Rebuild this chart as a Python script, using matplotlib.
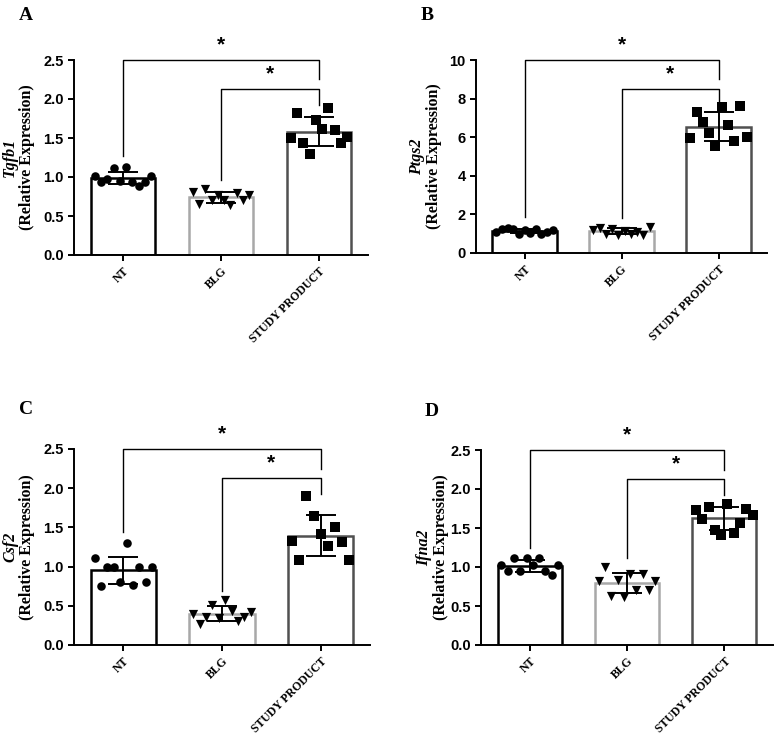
import numpy as np
import matplotlib
matplotlib.use("Agg")
import matplotlib.pyplot as plt

groups = ["NT", "BLG", "STUDY PRODUCT"]

# Panel A: Tgfb1
a_nt = [1.01, 0.93, 0.97, 1.12, 0.95, 1.13, 0.94, 0.89, 0.93, 1.01]
a_blg = [0.81, 0.66, 0.85, 0.71, 0.77, 0.70, 0.64, 0.79, 0.70, 0.77]
a_sp = [1.50, 1.82, 1.43, 1.30, 1.73, 1.62, 1.88, 1.60, 1.44, 1.51]

# Panel B: Ptgs2
b_nt = [1.10, 1.25, 1.30, 1.25, 1.00, 1.20, 1.05, 1.25, 1.00, 1.10, 1.20]
b_blg = [1.20, 1.30, 1.00, 1.25, 0.95, 1.15, 1.00, 1.10, 0.95, 1.35]
b_sp = [5.95, 7.28, 6.81, 6.20, 5.52, 7.55, 6.64, 5.81, 7.62, 6.03]

# Panel C: Csf2
c_nt = [1.11, 0.75, 1.00, 1.00, 0.80, 1.30, 0.76, 1.00, 0.80, 1.00]
c_blg = [0.39, 0.27, 0.36, 0.51, 0.34, 0.58, 0.44, 0.30, 0.36, 0.42]
c_sp = [1.33, 1.09, 1.90, 1.65, 1.41, 1.26, 1.50, 1.31, 1.09]

# Panel D: Ifna2
d_nt = [1.02, 0.95, 1.11, 0.95, 1.11, 1.02, 1.11, 0.95, 0.90, 1.02]
d_blg = [0.82, 1.00, 0.63, 0.83, 0.62, 0.91, 0.71, 0.91, 0.71, 0.82]
d_sp = [1.73, 1.61, 1.77, 1.47, 1.41, 1.81, 1.44, 1.57, 1.75, 1.67]

yticks_small = [0.0, 0.5, 1.0, 1.5, 2.0, 2.5]
yticks_b = [0, 2, 4, 6, 8, 10]

panels = [
    dict(letter="A", gene="Tgfb1", data=[a_nt, a_blg, a_sp], yticks=yticks_small, fmt="{:.1f}",
         rect=[74, 60, 368, 255], lab=[10, 27], letter_xy=(26, 15)),
    dict(letter="B", gene="Ptgs2", data=[b_nt, b_blg, b_sp], yticks=yticks_b, fmt="{:d}",
         rect=[476, 60, 767, 253], lab=[417, 434], letter_xy=(427, 15)),
    dict(letter="C", gene="Csf2", data=[c_nt, c_blg, c_sp], yticks=yticks_small, fmt="{:.1f}",
         rect=[74, 449, 370, 645], lab=[10, 27], letter_xy=(26, 410)),
    dict(letter="D", gene="Ifna2", data=[d_nt, d_blg, d_sp], yticks=yticks_small, fmt="{:.1f}",
         rect=[481, 450, 773, 645], lab=[424, 441], letter_xy=(432, 411)),
]

W, H = 782, 742
fig = plt.figure(figsize=(W / 100, H / 100), dpi=100)

edge_colors = ["#000000", "#a8a8a8", "#505050"]
markers = ["o", "v", "s"]
msizes = [38, 44, 44]
serif = "Liberation Serif"
sans = "Liberation Sans"

for p in panels:
    x0, y0, x1, y1 = p["rect"]
    ax = fig.add_axes([x0 / W, 1 - y1 / H, (x1 - x0) / W, (y1 - y0) / H])
    ytop = p["yticks"][-1]
    xs = np.arange(3)
    bw = 0.66
    for i, vals in enumerate(p["data"]):
        v = np.array(vals)
        m = v.mean()
        sd = v.std(ddof=1)
        ax.bar(xs[i], m, width=bw, facecolor="white", edgecolor=edge_colors[i], linewidth=1.8, zorder=1)
        off = np.linspace(-0.44, 0.44, len(v)) * bw
        ax.scatter(xs[i] + off, v, marker=markers[i], s=msizes[i], color="black", zorder=3, linewidths=0)
        ax.errorbar(xs[i], m, yerr=sd, color="black", capsize=11, elinewidth=1.4, capthick=1.4, zorder=4)
    ax.set_xlim(-0.5, 2.5)
    ax.set_ylim(0, ytop)
    ax.set_yticks(p["yticks"])
    ax.set_yticklabels([p["fmt"].format(t) for t in p["yticks"]], fontfamily=sans, fontweight="bold", fontsize=10.5)
    ax.set_xticks(xs)
    ax.set_xticklabels(groups, rotation=45, ha="right", rotation_mode="anchor",
                       fontfamily=serif, fontweight="bold", fontsize=8.5)
    for s in ["top", "right"]:
        ax.spines[s].set_visible(False)
    for s in ["left", "bottom"]:
        ax.spines[s].set_linewidth(1.4)
    ax.tick_params(width=1.4, length=4, direction="out")

    # significance brackets
    mx = [max(v) for v in p["data"]]
    top = ytop
    inner = 0.85 * ytop
    lc = dict(color="black", lw=1.0, clip_on=False)
    ax.plot([0, 0, 2, 2], [mx[0] + 0.055 * ytop, top, top, top - 0.1 * ytop], **lc)
    ax.plot([1, 1, 2, 2], [mx[1] + 0.045 * ytop, inner, inner, inner - 0.08 * ytop], **lc)
    ax.text(1, top + 0.03 * ytop, "*", ha="center", va="bottom", fontsize=15, fontweight="bold",
            fontfamily=sans, clip_on=False)
    ax.text(1.5, inner + 0.03 * ytop, "*", ha="center", va="bottom", fontsize=15, fontweight="bold",
            fontfamily=sans, clip_on=False)

    yc = 1 - (y0 + y1) / 2 / H
    fig.text(p["lab"][0] / W, yc, p["gene"], rotation=90, ha="center", va="center",
             fontfamily=serif, fontweight="bold", fontstyle="italic", fontsize=11.5)
    fig.text(p["lab"][1] / W, yc, "(Relative Expression)", rotation=90, ha="center", va="center",
             fontfamily=serif, fontweight="bold", fontsize=11.5)
    fig.text(p["letter_xy"][0] / W, 1 - p["letter_xy"][1] / H, p["letter"], ha="center", va="center",
             fontfamily=serif, fontweight="bold", fontsize=14)

fig.savefig("out.png", dpi=100)
